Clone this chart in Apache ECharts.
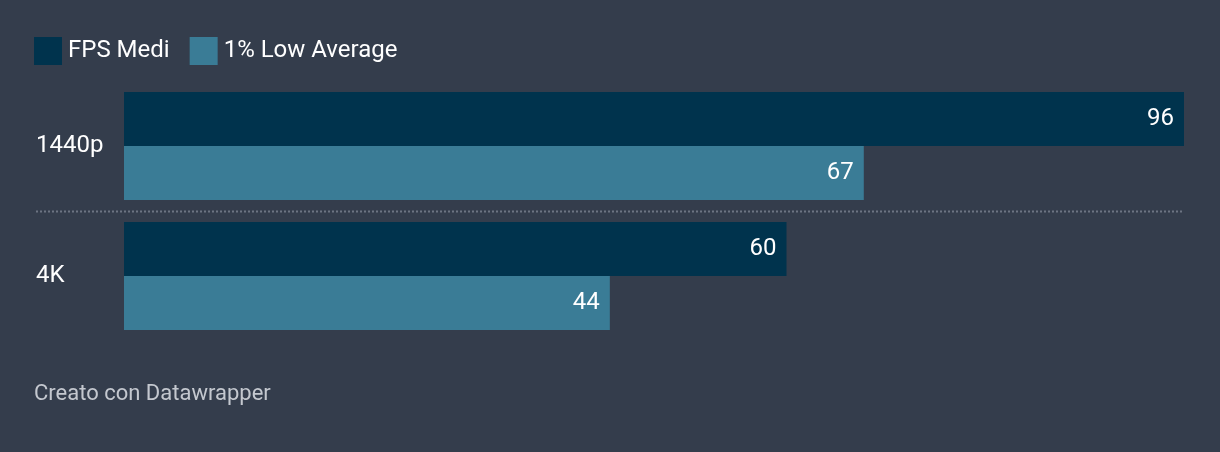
<!DOCTYPE html>
<html>
<head>
<meta charset="utf-8">
<script src="https://cdn.jsdelivr.net/npm/echarts@6/dist/echarts.min.js"></script>
<style>
html,body{margin:0;padding:0;background:#343d4c;}
#c{width:1220px;height:452px;}
</style>
</head>
<body>
<div id="c"></div>
<script>
const categories = ['1440p', '4K'];
const seriesNames = ['FPS Medi', '1% Low Average'];
const fpsMedi = [96, 60];
const lowAverage = [67, 44];

const chart = echarts.init(document.getElementById('c'), null, {renderer: 'canvas'});
const font = 'Roboto, "Noto Sans", sans-serif';
const footer = {type: 'text', left: 34, top: 383, style: {text: 'Creato con Datawrapper', fill: '#c4c8cf', fontSize: 22, fontFamily: font}};
const option = {
  backgroundColor: '#343d4c',
  animation: false,
  textStyle: {fontFamily: font},
  legend: {
    left: 34, top: 37, padding: 0,
    itemWidth: 28, itemHeight: 28, itemGap: 20,
    icon: 'rect',
    textStyle: {color: '#ffffff', fontSize: 24, fontFamily: font, padding: [0,0,0,1]},
    data: seriesNames
  },
  grid: {left: 124, right: 36, top: 81, height: 260, containLabel: false},
  xAxis: {
    type: 'value', min: 0, max: 96, show: false
  },
  yAxis: {
    type: 'category', data: categories, inverse: true,
    axisLine: {show: false}, axisTick: {show: false}, splitLine: {show: false},
    axisLabel: {color: '#ffffff', fontSize: 24, fontFamily: font, align: 'left', margin: 88}
  },
  series: [
    {
      name: seriesNames[0], type: 'bar', data: fpsMedi,
      itemStyle: {color: '#00334d'},
      barWidth: 54, barGap: '0%',
      label: {show: true, position: 'insideRight', distance: 10, color: '#ffffff', fontSize: 24, fontFamily: font}
    },
    {
      name: seriesNames[1], type: 'bar', data: lowAverage,
      itemStyle: {color: '#3a7c96'},
      barWidth: 54, barGap: '0%',
      label: {show: true, position: 'insideRight', distance: 10, color: '#ffffff', fontSize: 24, fontFamily: font}
    }
  ],
  graphic: [footer]
};
chart.setOption(option);
// separator between categories, placed using the category scale
const y0 = chart.convertToPixel({yAxisIndex: 0}, categories[0]);
const y1 = chart.convertToPixel({yAxisIndex: 0}, categories[1]);
const xEnd = chart.convertToPixel({xAxisIndex: 0}, 96);
const ySep = Math.round((y0 + y1) / 2) + 0.5;
chart.setOption({
  graphic: [
    footer,
    {type: 'line', shape: {x1: 36, y1: ySep, x2: xEnd, y2: ySep},
     style: {stroke: '#6c7482', lineWidth: 2, lineDash: [2, 2]}, z: 0}
  ]
});
</script>
</body>
</html>
